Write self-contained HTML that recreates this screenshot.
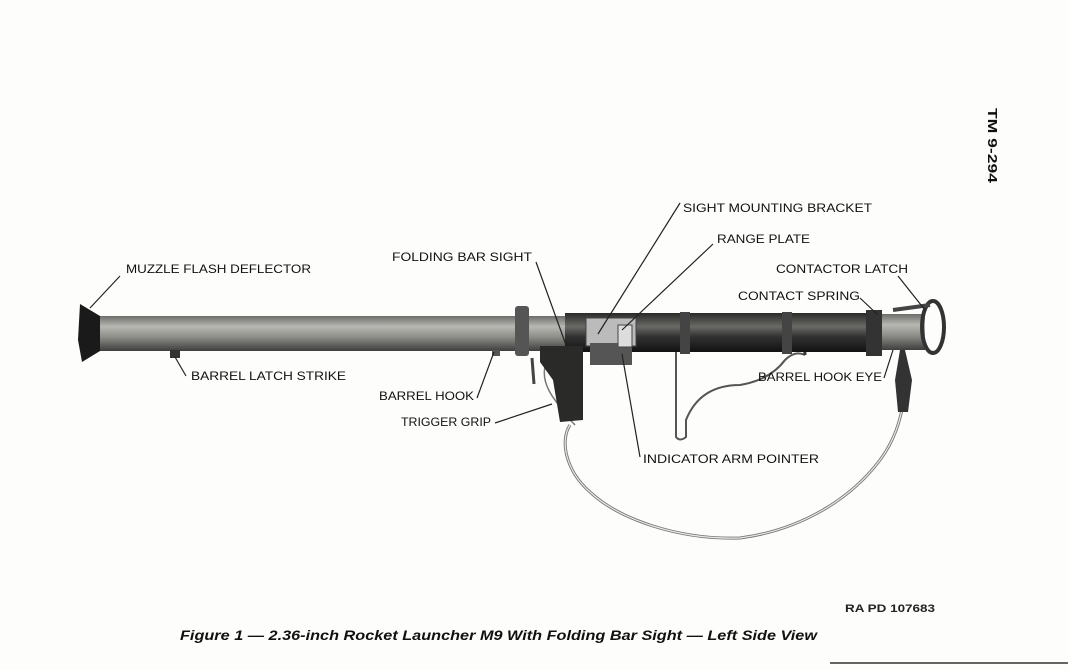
<!DOCTYPE html>
<html><head><meta charset="utf-8"><style>
html,body{margin:0;padding:0;background:#fdfdfb;}
svg{display:block}
.l{font-family:"Liberation Sans",sans-serif;font-size:12px;fill:#111;}
</style></head><body>
<svg width="1068" height="670" viewBox="0 0 1068 670" xmlns="http://www.w3.org/2000/svg">
<rect width="1068" height="670" fill="#fdfdfb"/>
<defs>
<linearGradient id="gl" x1="0" y1="0" x2="0" y2="1">
<stop offset="0" stop-color="#6d6d6a"/><stop offset="0.3" stop-color="#b8b8b3"/><stop offset="0.6" stop-color="#8d8d89"/><stop offset="1" stop-color="#3e3e3c"/></linearGradient>
<linearGradient id="gd" x1="0" y1="0" x2="0" y2="1">
<stop offset="0" stop-color="#2a2a28"/><stop offset="0.35" stop-color="#6a6a66"/><stop offset="0.6" stop-color="#333"/><stop offset="1" stop-color="#111"/></linearGradient>
</defs>
<!-- sling -->
<path d="M570,425 C560,440 565,470 590,492 C620,520 680,540 740,538 C800,530 850,500 880,460 C895,440 900,420 903,405" fill="none" stroke="#777" stroke-width="3"/>
<path d="M570,425 C560,440 565,470 590,492 C620,520 680,540 740,538 C800,530 850,500 880,460 C895,440 900,420 903,405" fill="none" stroke="#e8e8e4" stroke-width="1.2"/>
<path d="M560,348 C540,360 540,380 555,400 C565,415 572,422 575,425" fill="none" stroke="#777" stroke-width="1.5"/>
<path d="M900,350 L895,380 L898,412 L908,412 L912,380 L905,350 Z" fill="#333"/>
<!-- shoulder stock -->
<path d="M676,352 L676,437 Q680,442 686,437 L686,420 Q700,385 740,385 Q770,380 785,360 Q795,350 805,355" fill="none" stroke="#555" stroke-width="2"/>
<path d="M795,320 Q805,340 805,355" fill="none" stroke="#333" stroke-width="3"/>
<!-- barrel -->
<rect x="98" y="316" width="470" height="35" fill="url(#gl)"/>
<rect x="565" y="313" width="310" height="39" fill="url(#gd)"/>
<rect x="870" y="314" width="55" height="36" fill="url(#gl)"/>
<polygon points="80,304 100,316 100,351 82,362 78,340" fill="#1a1a1a"/>
<!-- bands -->
<rect x="515" y="306" width="14" height="50" rx="3" fill="#555"/>
<rect x="680" y="312" width="10" height="42" fill="#444"/>
<rect x="782" y="312" width="10" height="42" fill="#444"/>
<rect x="866" y="310" width="16" height="46" fill="#333"/>
<ellipse cx="933" cy="327" rx="11" ry="26" fill="none" stroke="#333" stroke-width="4"/>
<path d="M893,310 L930,305" stroke="#444" stroke-width="4"/>
<!-- sight / bracket -->
<rect x="586" y="318" width="50" height="28" fill="#bbb" stroke="#444"/>
<rect x="590" y="343" width="42" height="22" fill="#555"/>
<rect x="618" y="325" width="14" height="22" fill="#ddd" stroke="#444"/>
<!-- grip -->
<polygon points="540,346 583,346 583,420 560,422 553,380 540,362" fill="#2a2a28"/>
<path d="M532,358 L534,384" stroke="#444" stroke-width="3"/>
<rect x="170" y="350" width="10" height="8" fill="#333"/>
<rect x="492" y="350" width="8" height="6" fill="#555"/>
<!-- leaders -->
<g stroke="#222" stroke-width="1.2" fill="none">
<line x1="120" y1="276" x2="90" y2="308"/>
<line x1="536" y1="262" x2="566" y2="345"/>
<line x1="680" y1="203" x2="598" y2="334"/>
<line x1="713" y1="244" x2="622" y2="330"/>
<line x1="898" y1="276" x2="925" y2="310"/>
<line x1="860" y1="298" x2="878" y2="315"/>
<line x1="186" y1="376" x2="175" y2="357"/>
<line x1="477" y1="398" x2="494" y2="352"/>
<line x1="495" y1="423" x2="552" y2="404"/>
<line x1="884" y1="378" x2="893" y2="350"/>
<line x1="640" y1="457" x2="622" y2="354"/>
</g>
<!-- labels -->
<text class="l" x="126" y="273" textLength="185" lengthAdjust="spacingAndGlyphs">MUZZLE FLASH DEFLECTOR</text>
<text class="l" x="392" y="261" textLength="140" lengthAdjust="spacingAndGlyphs">FOLDING BAR SIGHT</text>
<text class="l" x="683" y="212" textLength="189" lengthAdjust="spacingAndGlyphs">SIGHT MOUNTING BRACKET</text>
<text class="l" x="717" y="243" textLength="93" lengthAdjust="spacingAndGlyphs">RANGE PLATE</text>
<text class="l" x="776" y="273" textLength="132" lengthAdjust="spacingAndGlyphs">CONTACTOR LATCH</text>
<text class="l" x="738" y="300" textLength="122" lengthAdjust="spacingAndGlyphs">CONTACT SPRING</text>
<text class="l" x="191" y="380" textLength="155" lengthAdjust="spacingAndGlyphs">BARREL LATCH STRIKE</text>
<text class="l" x="379" y="400" textLength="95" lengthAdjust="spacingAndGlyphs">BARREL HOOK</text>
<text class="l" x="401" y="426" textLength="90" lengthAdjust="spacingAndGlyphs">TRIGGER GRIP</text>
<text class="l" x="758" y="381" textLength="124" lengthAdjust="spacingAndGlyphs">BARREL HOOK EYE</text>
<text class="l" x="643" y="463" textLength="176" lengthAdjust="spacingAndGlyphs">INDICATOR ARM POINTER</text>
<text x="845" y="612" textLength="90" lengthAdjust="spacingAndGlyphs" style="font-family:'Liberation Sans',sans-serif;font-weight:bold;font-size:11px;fill:#222">RA PD 107683</text>
<text x="180" y="640" textLength="637" lengthAdjust="spacingAndGlyphs" style="font-family:'Liberation Sans',sans-serif;font-weight:bold;font-style:italic;font-size:14px;fill:#111">Figure 1 — 2.36-inch Rocket Launcher M9 With Folding Bar Sight — Left Side View</text>
<text transform="translate(988,108) rotate(90)" textLength="75" lengthAdjust="spacingAndGlyphs" style="font-family:'Liberation Sans',sans-serif;font-weight:bold;font-size:13px;fill:#111">TM 9-294</text>
<line x1="830" y1="663" x2="1068" y2="663" stroke="#333" stroke-width="1.5"/>
</svg>
</body></html>
